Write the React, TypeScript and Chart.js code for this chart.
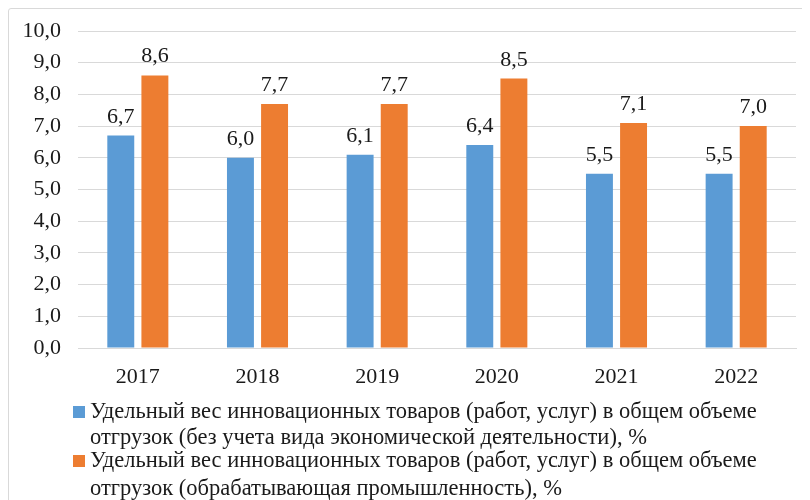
import React, { useEffect, useRef } from "react";
import { Chart, registerables } from "chart.js";
Chart.register(...registerables);

const years = ["2017", "2018", "2019", "2020", "2021", "2022"];
const seriesAll = [6.7, 6.0, 6.1, 6.4, 5.5, 5.5];
const seriesManuf = [8.6, 7.7, 7.7, 8.5, 7.1, 7.0];
const legendAll = [
  "Удельный вес инновационных товаров (работ, услуг) в общем объеме",
  "отгрузок (без учета вида экономической деятельности), %",
];
const legendManuf = [
  "Удельный вес инновационных товаров (работ, услуг) в общем объеме",
  "отгрузок (обрабатывающая промышленность), %",
];
const colors = ["#5B9BD5", "#ED7D31"];
const FONT = "'Liberation Serif', 'Times New Roman', serif";
const fmt = (v: number) => v.toFixed(1).replace(".", ",");

const labelPlugin = {
  id: "valueLabels",
  afterDatasetsDraw(chart: any) {
    const ctx = chart.ctx;
    ctx.save();
    ctx.font = `22px ${FONT}`;
    ctx.fillStyle = "#1a1a1a";
    ctx.textAlign = "center";
    ctx.textBaseline = "alphabetic";
    chart.data.datasets.forEach((ds: any, i: number) => {
      const meta = chart.getDatasetMeta(i);
      meta.data.forEach((el: any, j: number) => {
        ctx.fillText(fmt(ds.data[j]), el.x, el.y - 13);
      });
    });
    ctx.restore();
  },
};

const legendPlugin = {
  id: "customLegend",
  afterDraw(chart: any) {
    const ctx = chart.ctx;
    ctx.save();
    ctx.font = `22.5px ${FONT}`;
    ctx.fillStyle = "#1a1a1a";
    ctx.textAlign = "left";
    ctx.textBaseline = "middle";
    const items = [legendAll, legendManuf];
    const starts = [402, 451];
    items.forEach((lines, i) => {
      const y0 = starts[i] - 9;
      ctx.fillStyle = colors[i];
      ctx.fillRect(64, y0 + 4, 12, 12);
      ctx.fillStyle = "#1a1a1a";
      lines.forEach((t, k) => {
        ctx.fillText(t, 81, y0 + 10 + k * 26 + (i === 1 && k === 1 ? 2 : 0));
      });
    });
    ctx.restore();
  },
};

export default function App() {
  const ref = useRef<HTMLCanvasElement>(null);
  useEffect(() => {
    if (!ref.current) return;
    const chart = new Chart(ref.current, {
      type: "bar",
      data: {
        labels: years,
        datasets: [
          { label: legendAll.join(" "), data: seriesAll, backgroundColor: colors[0] },
          { label: legendManuf.join(" "), data: seriesManuf, backgroundColor: colors[1] },
        ],
      },
      options: {
        animation: false,
        responsive: false,
        maintainAspectRatio: false,
        layout: { padding: { left: 12, right: 13, top: 22, bottom: 109 } },
        plugins: { legend: { display: false }, tooltip: { enabled: false } },
        datasets: { bar: { categoryPercentage: 0.57, barPercentage: 0.79 } },
        scales: {
          x: {
            grid: { display: false },
            border: { color: "#d9d9d9", width: 1 },
            ticks: { color: "#1a1a1a", font: { family: FONT, size: 22 }, padding: 8 },
            afterFit: (s: any) => { s.height = 45; s.paddingLeft = 0; s.paddingRight = 0; },
          },
          y: {
            min: 0,
            max: 10,
            ticks: {
              stepSize: 1,
              color: "#1a1a1a",
              font: { family: FONT, size: 22 },
              padding: 17,
              callback: (v: any) => fmt(Number(v)),
            },
            grid: { color: "#d9d9d9", drawTicks: false },
            border: { display: false },
            afterFit: (s: any) => { s.width = 57; s.paddingTop = 0; s.paddingBottom = 0; },
          },
        },
      },
      plugins: [labelPlugin, legendPlugin],
    });
    return () => chart.destroy();
  }, []);
  return (
    <div
      style={{
        position: "relative",
        width: 802,
        height: 495,
        border: "1px solid #d9d9d9",
        boxSizing: "border-box",
        borderRadius: 3,
      }}
    >
      <canvas ref={ref} width={800} height={493} style={{ position: "absolute", left: 0, top: 0 }} />
    </div>
  );
}
